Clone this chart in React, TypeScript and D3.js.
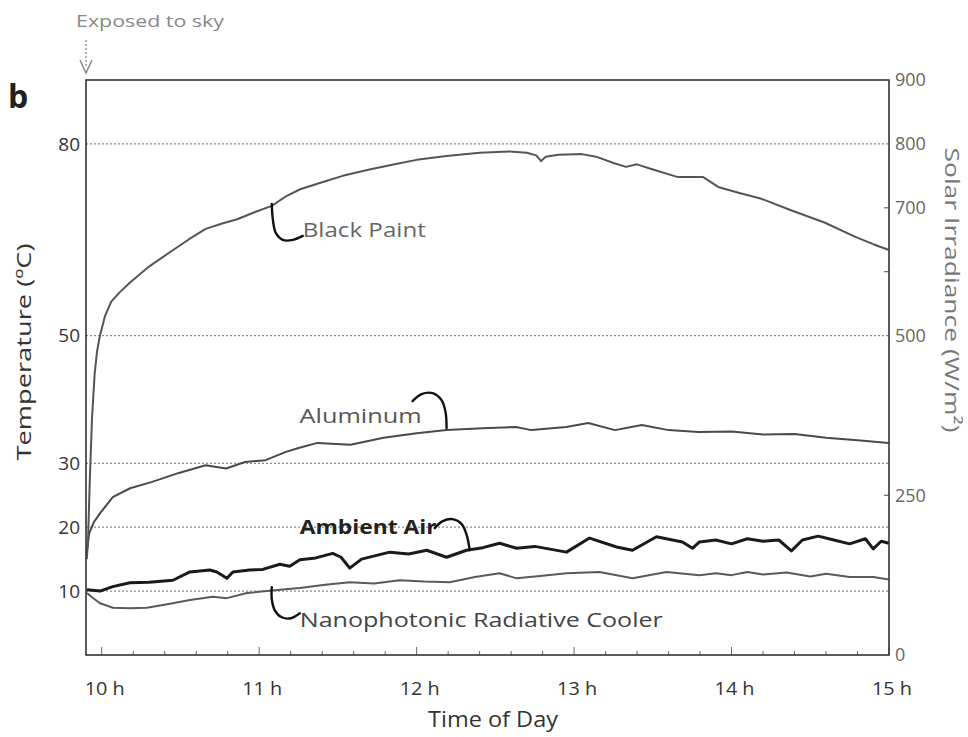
import React from 'react';
import * as d3 from 'd3';

// ---- data ----
const timeTicks = [10, 11, 12, 13, 14, 15];
const timeTickLabels = ['10 h', '11 h', '12 h', '13 h', '14 h', '15 h'];
const tempTicks = [10, 20, 30, 50, 80];
const irradianceTicks = [0, 250, 500, 700, 800, 900];

const blackPaint: [number, number][] = [
  [9.905, 15], [9.913, 18], [9.925, 28], [9.938, 37], [9.955, 44], [9.97, 47.5], [9.989, 50],
  [10.02, 53], [10.06, 55.3], [10.115, 56.8], [10.18, 58.3], [10.3, 60.8], [10.43, 63],
  [10.55, 65], [10.66, 66.7], [10.76, 67.5], [10.86, 68.2], [10.97, 69.3], [11.08, 70.3],
  [11.17, 71.8], [11.26, 72.9], [11.4, 74], [11.53, 75], [11.7, 76], [11.86, 76.8], [12.0, 77.5],
  [12.19, 78.1], [12.4, 78.6], [12.59, 78.8], [12.7, 78.6], [12.76, 78.2], [12.79, 77.3],
  [12.82, 78], [12.9, 78.3], [13.05, 78.4], [13.14, 78], [13.25, 77], [13.33, 76.4], [13.4, 76.8],
  [13.5, 76], [13.66, 74.8], [13.82, 74.8], [13.92, 73.2], [14.05, 72.3], [14.19, 71.4],
  [14.39, 69.5], [14.59, 67.7], [14.79, 65.4], [14.9, 64.3], [15.0, 63.4],
];

const aluminum: [number, number][] = [
  [9.905, 16], [9.92, 19], [9.95, 20.8], [9.99, 22.2], [10.07, 24.7], [10.18, 26.1], [10.32, 27.1],
  [10.49, 28.5], [10.66, 29.7], [10.79, 29.2], [10.91, 30.2], [11.04, 30.5], [11.17, 31.8],
  [11.25, 32.4], [11.37, 33.2], [11.58, 32.9], [11.79, 34], [12.0, 34.7], [12.19, 35.2],
  [12.42, 35.5], [12.63, 35.7], [12.73, 35.2], [12.95, 35.7], [13.09, 36.3], [13.26, 35.2],
  [13.43, 36], [13.6, 35.2], [13.79, 34.9], [14.0, 35], [14.2, 34.5], [14.4, 34.6], [14.6, 34],
  [14.8, 33.6], [15.0, 33.2],
];

const ambientAir: [number, number][] = [
  [9.906, 10.2], [9.989, 10], [10.07, 10.7], [10.179, 11.3], [10.3, 11.4], [10.452, 11.7],
  [10.56, 13], [10.687, 13.3], [10.731, 13], [10.795, 12], [10.833, 13], [10.94, 13.3],
  [11.023, 13.4], [11.131, 14.2], [11.194, 13.9], [11.258, 14.9], [11.36, 15.2], [11.467, 15.9],
  [11.52, 15.3], [11.575, 13.6], [11.65, 15], [11.829, 16.1], [11.95, 15.8], [12.064, 16.4],
  [12.19, 15.3], [12.317, 16.4], [12.42, 16.8], [12.527, 17.5], [12.635, 16.7], [12.75, 17],
  [12.952, 16.1], [13.098, 18.3], [13.27, 16.9], [13.371, 16.4], [13.523, 18.5], [13.688, 17.7],
  [13.752, 16.7], [13.796, 17.7], [13.9, 18], [14.0, 17.4], [14.1, 18.2], [14.2, 17.8],
  [14.3, 18], [14.38, 16.3], [14.45, 18], [14.55, 18.6], [14.65, 18], [14.75, 17.4],
  [14.85, 18.2], [14.9, 16.6], [14.95, 17.8], [15.0, 17.5],
];

const radiativeCooler: [number, number][] = [
  [9.906, 9.7], [9.94, 9], [9.989, 8.1], [10.071, 7.4], [10.18, 7.3], [10.287, 7.4], [10.452, 8.1],
  [10.56, 8.6], [10.706, 9.1], [10.795, 8.9], [10.922, 9.7], [11.131, 10.2], [11.258, 10.5],
  [11.42, 11], [11.575, 11.4], [11.73, 11.2], [11.892, 11.7], [12.05, 11.5], [12.21, 11.4],
  [12.37, 12.2], [12.527, 12.8], [12.635, 12], [12.8, 12.4], [12.952, 12.8], [13.161, 13],
  [13.371, 12], [13.587, 13], [13.796, 12.5], [13.9, 12.8], [14.0, 12.5], [14.1, 13],
  [14.2, 12.6], [14.35, 12.9], [14.5, 12.3], [14.6, 12.7], [14.75, 12.2], [14.9, 12.2], [15.0, 11.8],
];

// ---- layout ----
const W = 968;
const H = 737;
const L = 86, R = 889, T = 80, B = 655;

const x = d3.scaleLinear().domain([9.9, 15]).range([L, R]);
const yT = d3.scaleLinear().domain([0, 90]).range([B, T]);
const yS = d3.scaleLinear().domain([0, 900]).range([B, T]);

const line = d3.line<[number, number]>().x((d) => x(d[0])).y((d) => yT(d[1]));
const hookLine = d3.line<[number, number]>().curve(d3.curveCatmullRom.alpha(0.5));

const minorTicks = d3.range(10, 15.001, 0.2).map((v) => Math.round(v * 10) / 10);

const FONT = "'Open Sans', 'Noto Sans', 'Liberation Sans', sans-serif";

function hook(anchor: [number, number], offs: [number, number][]) {
  const ax = x(anchor[0]);
  const ay = yT(anchor[1]);
  return hookLine(offs.map(([dx, dy]) => [ax + dx, ay + dy] as [number, number])) || '';
}

export default function App() {
  const bpA: [number, number] = [11.08, 70.6];
  const alA: [number, number] = [12.19, 35.2];
  const amA: [number, number] = [12.337, 16.1];
  const coA: [number, number] = [11.08, 10.6];

  return (
    <svg width={W} height={H} style={{ position: 'absolute', left: 0, top: 0, background: '#fff' }}
      fontFamily={FONT}>
      <rect x={0} y={0} width={W} height={H} fill="#fff" />

      {/* grid lines */}
      {tempTicks.map((t) => (
        <line key={'g' + t} x1={L} x2={R} y1={yT(t)} y2={yT(t)} stroke="#8a8a8a"
          strokeWidth={1.2} strokeDasharray="2 2" />
      ))}

      {/* x minor/major ticks (inward) */}
      {minorTicks.map((t) => {
        const major = Math.abs(t - Math.round(t)) < 1e-6;
        return (
          <line key={'xt' + t} x1={x(t)} x2={x(t)} y1={B} y2={B - (major ? 8 : 4)}
            stroke="#666" strokeWidth={1} />
        );
      })}

      {/* right axis inward ticks */}
      {[250, 600, 700].map((v) => (
        <line key={'rt' + v} x1={R} x2={R - 5} y1={yS(v)} y2={yS(v)} stroke="#666" strokeWidth={1.2} />
      ))}

      {/* series */}
      <path d={line(radiativeCooler) || ''} fill="none" stroke="#5a5a5a" strokeWidth={2} strokeLinejoin="round" />
      <path d={line(aluminum) || ''} fill="none" stroke="#4a4a4a" strokeWidth={2} strokeLinejoin="round" />
      <path d={line(blackPaint) || ''} fill="none" stroke="#555" strokeWidth={2} strokeLinejoin="round" />
      <path d={line(ambientAir) || ''} fill="none" stroke="#1a1a1a" strokeWidth={3} strokeLinejoin="round" />

      {/* frame */}
      <rect x={L} y={T} width={R - L} height={B - T} fill="none" stroke="#333" strokeWidth={1.6} />

      {/* annotation hooks */}
      <g fill="none" stroke="#111" strokeWidth={2.4} strokeLinecap="round">
        <path d={hook(bpA, [[0, 0], [1, 15], [4, 29], [11, 36], [21, 36], [31, 32]])} />
        <path d={hook(alA, [[-34, -29], [-25, -36], [-14, -37], [-5, -30], [-1, -18], [0, -2]])} />
        <path d={hook(amA, [[-35, -24], [-27, -31], [-17, -33], [-8, -28], [-3, -17], [0, -2]])} />
        <path d={hook(coA, [[0, 0], [0, 12], [3, 23], [10, 30], [19, 31], [28, 26]])} />
      </g>

      {/* annotation labels */}
      <text x={x(bpA[0]) + 31} y={yT(bpA[1]) + 33} fontSize={20} fill="#666"
        textLength={123} lengthAdjust="spacingAndGlyphs">Black Paint</text>
      <text x={x(alA[0]) - 147} y={yT(alA[1]) - 7} fontSize={20} fill="#555"
        textLength={122} lengthAdjust="spacingAndGlyphs">Aluminum</text>
      <text x={x(amA[0]) - 170} y={yT(amA[1]) - 18} fontSize={20} fill="#222" fontWeight="bold"
        textLength={137} lengthAdjust="spacingAndGlyphs">Ambient Air</text>
      <text x={x(coA[0]) + 28} y={yT(coA[1]) + 40} fontSize={20} fill="#444"
        textLength={363} lengthAdjust="spacingAndGlyphs">Nanophotonic Radiative Cooler</text>

      {/* left tick labels */}
      {tempTicks.map((t) => (
        <text key={'lt' + t} x={L - 6} y={yT(t)} dy="0.35em" textAnchor="end" fontSize={19} fill="#333">
          {t}
        </text>
      ))}

      {/* right tick labels */}
      {irradianceTicks.map((v) => (
        <text key={'rl' + v} x={R + 6} y={yS(v)} dy="0.35em" textAnchor="start" fontSize={18} fill="#666">
          {v}
        </text>
      ))}

      {/* x tick labels */}
      {timeTicks.map((t, i) => (
        <text key={'xl' + t} x={x(t) + 3} y={B + 33} dy="0.35em" textAnchor="middle" fontSize={19}
          fill="#333" textLength={40} lengthAdjust="spacingAndGlyphs">
          {timeTickLabels[i]}
        </text>
      ))}

      {/* axis titles */}
      <text x={493} y={B + 72} textAnchor="middle" fontSize={21} fill="#333"
        textLength={130} lengthAdjust="spacingAndGlyphs">Time of Day</text>
      <text transform={`translate(31, 352) rotate(-90)`} textAnchor="middle" fontSize={20} fill="#333"
        textLength={217} lengthAdjust="spacingAndGlyphs">Temperature (ºC)</text>
      <text transform={`translate(945, 290) rotate(90)`} textAnchor="middle" fontSize={20} fill="#777"
        textLength={285} lengthAdjust="spacingAndGlyphs">Solar Irradiance (W/m²)</text>

      {/* panel letter */}
      <text x={8} y={108} fontSize={32} fontWeight="bold" fill="#222">b</text>

      {/* exposed to sky annotation */}
      <text x={76} y={27} fontSize={17} fill="#888" textLength={148} lengthAdjust="spacingAndGlyphs">
        Exposed to sky
      </text>
      <line x1={L} x2={L} y1={40} y2={66} stroke="#888" strokeWidth={1.3} strokeDasharray="2 2" />
      <path d={`M${L - 6},${60} L${L},${73} L${L + 6},${60}`} fill="none" stroke="#888" strokeWidth={1.5} />
    </svg>
  );
}
